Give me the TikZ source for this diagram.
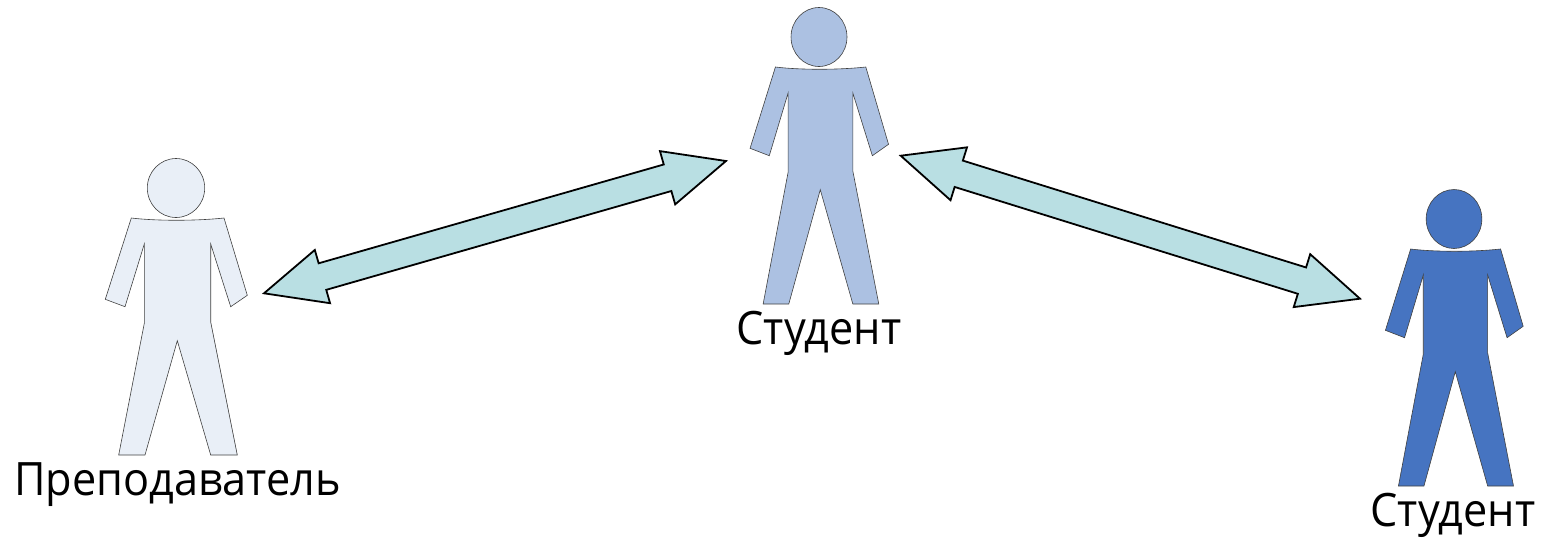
\documentclass[tikz,border=0pt]{standalone}
\usepackage{fontspec}
\setmainfont[FakeStretch=.94]{Open Sans}
\usetikzlibrary{calc,shapes.arrows}
\definecolor{palefill}{HTML}{E9EFF7}
\definecolor{midfill}{HTML}{ACC1E2}
\definecolor{darkfill}{HTML}{4674C1}
\definecolor{arrowfill}{HTML}{B9DFE3}
\definecolor{figline}{HTML}{404040}
\tikzset{
person/.pic={
\draw[pic actions,line width=.3pt] (0,0) circle [x radius=28.7,y radius=29.5];
\draw[pic actions,line width=.3pt] (-44.7,30) .. controls (-20,33) and (20,33) .. (48,30) -- (71.3,107.3) -- (54.7,118.7) -- (34.7,56) -- (34.7,134) -- (61.3,267) -- (34.7,267) -- (1.3,152.7) -- (-31,267) -- (-57.3,267) -- (-31.7,135.3) -- (-31.7,56) -- (-51,118.7) -- (-70.7,111.3) -- cycle;
},
label/.style={font=\fontsize{23pt}{26pt}\selectfont,inner sep=0pt},
blockarrow/.style={draw=black,line width=.9pt,fill=arrowfill,double arrow,inner sep=0pt,outer sep=0pt,
double arrow tip angle=49,text height=12.9pt,text depth=0pt,double arrow head extend=6.95pt}
}
\newcommand{\blockbetween}[3]{
\path let \p1=($(#3)-(#2)$),\n1={atan2(\y1,\x1)},\n2={veclen(\x1,\y1)} in
node[blockarrow,minimum height=\n2,rotate=\n1] (#1) at ($(#2)!.5!(#3)$) {};
}
\begin{document}
\begin{tikzpicture}[x=.5pt,y=-.5pt]
\useasboundingbox (0,0) rectangle (1545,537);
\pic[fill=palefill,draw=figline] at (176,188) {person};
\pic[fill=midfill,draw=figline,xscale=.975] at (819,37) {person};
\pic[fill=darkfill,draw=figline,xscale=.97] at (1454,219) {person};

\node[label] (teacher) at (177.5,485) {Преподаватель};
\node[label] (student1) at (819,333) {Студент};
\node[label] (student2) at (1453,515) {Студент};

\coordinate (a1) at (264,293.3);
\coordinate (b1) at (726,161);
\coordinate (a2) at (900.7,155.7);
\coordinate (b2) at (1360,298.7);
\blockbetween{link1}{a1}{b1}
\blockbetween{link2}{a2}{b2}
\end{tikzpicture}
\end{document}
